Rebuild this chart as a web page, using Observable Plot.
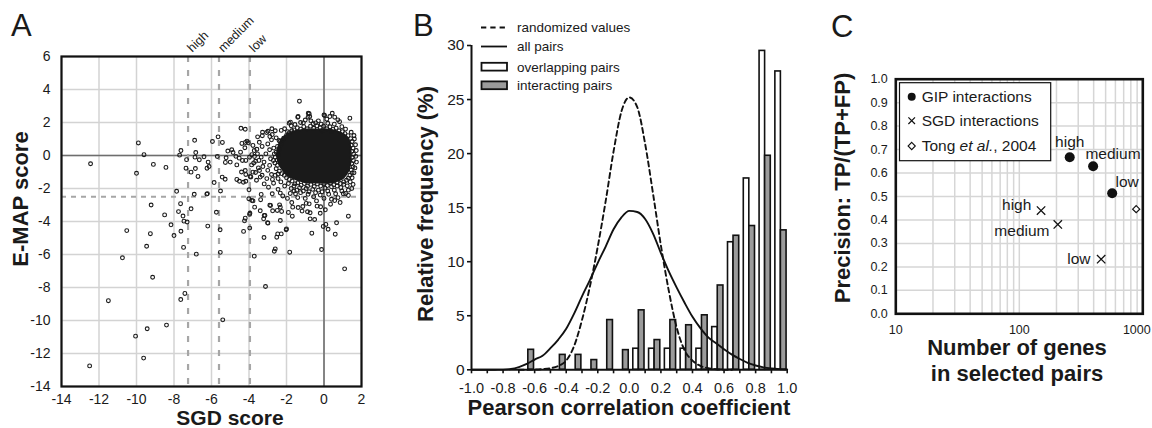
<!DOCTYPE html>
<html><head><meta charset="utf-8">
<script src="https://cdn.jsdelivr.net/npm/d3@7"></script>
<script src="https://cdn.jsdelivr.net/npm/@observablehq/plot@0.6"></script>
<style>
body{margin:0;background:#fff;}
#wrap{position:relative;width:1152px;height:428px;overflow:hidden;background:#fff;}
</style></head><body><div id="wrap"></div>
<script>
// ---------- Panel A data ----------
const aXTicks = [-14,-12,-10,-8,-6,-4,-2,0,2];
const aYTicks = [-14,-12,-10,-8,-6,-4,-2,0,2,4,6];
const aCutoffLabels = ["high","medium","low"];
const aCutoffs = [-7.25,-5.6,-3.95];
const aEmapCutoff = -2.5;
// dense core of the cloud (E-MAP score rows, SGD score left/right edge)
const aCoreY = [1.6,1.4,1.15,0.85,0.55,0.25,-0.05,-0.35,-0.65,-0.95,-1.25,-1.5,-1.72];
const aCoreLeft = [-1.0,-1.8,-2.15,-2.35,-2.45,-2.52,-2.52,-2.48,-2.38,-2.2,-1.95,-1.55,-0.95];
const aCoreRight = [0.3,0.95,1.28,1.42,1.47,1.5,1.5,1.5,1.45,1.38,1.22,1.0,0.5];
// individual gene pairs [SGD score, E-MAP score]
const aScatter = [
[-12.45,-0.5],[-12.5,-12.75],[-11.5,-8.8],[-10.75,-6.2],[-10.52,-4.55],[-9.9,0.76],[-10.0,-1.08],[-9.6,0.05],[-9.1,-0.54],[-8.43,-0.72],
[-10.05,-10.95],[-9.43,-10.5],[-9.62,-12.28],[-8.4,-10.28],[-9.14,-7.38],[-9.46,-5.5],[-9.26,-4.74],[-9.22,-3.0],[-8.5,-3.6],[-8.16,-4.2],
[-8.0,-4.85],[-7.86,-2.17],[-7.65,-2.92],[-7.76,-3.4],[-7.63,-4.59],[-7.52,-3.67],[-7.47,-3.98],[-7.3,-4.03],[-7.09,-3.23],[-7.49,-5.57],
[-7.64,-8.73],[-7.42,-8.36],[-6.81,-5.98],[-6.92,-2.35],[-6.25,-2.34],[-6.22,-2.31],[-6.2,-4.28],[-5.74,-3.44],[-5.54,-4.5],[-5.53,-5.87],
[-5.4,-9.96],[-5.52,-2.15],
[-6.9,0.92],[-7.63,0.3],[-7.7,0.02],[-7.33,-0.25],[-7.36,-0.77],[-7.09,-1.01],[-6.84,0.18],[-6.88,-0.1],[-6.86,-0.79],[-6.72,-1.27],
[-6.65,-0.26],[-6.4,-0.08],[-6.24,-0.77],[-6.13,-0.67],[-6.18,-0.4],[-5.86,-1.64],[-5.95,0.85],[-5.65,1.13],[-5.42,0.79],[-5.69,-0.06],
[-5.22,-0.14],[-5.26,-0.42],[-5.13,0.27],[-4.92,0.35],[-4.85,0.18],[-5.0,-0.4],[-5.43,-1.31],[-5.27,-1.44],[-4.43,1.65],[-4.2,1.59],
[-4.65,-0.57],[-4.52,-0.16],[-4.38,0.73],[-4.19,0.79],[-4.11,0.87],[-4.22,0.47],[-4.17,-0.3],[-3.97,-0.1],[-3.71,-0.06],[-3.86,-0.57],
[-3.65,-0.35],[-3.72,0.3],[-3.58,0.38],[-3.79,0.61],[-4.04,0.77],[-4.2,-0.91],[-4.17,-1.15],[-3.94,-1.27],[-4.17,-1.56],[-4.3,-1.62],
[-3.79,-1.01],[-4.65,-1.45],[-4.51,-1.56],[-4.0,-2.08],[-4.01,-2.62],[-3.85,-2.72],[-3.79,-2.75],
[-3.28,1.41],[-3.06,1.39],[-2.99,1.47],[-3.29,1.2],[-2.89,1.15],[-2.76,1.27],[-2.6,1.5],[-2.28,1.52],[-2.55,1.07],[-2.4,0.91],
[-3.54,1.13],[-2.78,1.62],[-3.35,-0.1],[-3.47,-0.3],[-3.44,-0.91],[-3.26,-0.67],[-3.65,-1.03],[-3.4,-1.31],[-3.19,-1.72],[-2.96,-1.92],
[-2.69,-1.68],[-3.35,-2.36],[-3.7,-3.13],[-3.38,-2.68],[-3.4,-3.35],[-2.85,-3.03],[-2.74,-3.35],[-2.49,-3.33],[-2.33,-3.13],[-3.15,-3.64],
[-3.01,-4.08],[-2.76,-2.32],[-2.33,-2.28],[-3.22,-3.84],[-3.19,-3.63],[-2.99,-4.1],[-2.89,-3.01],[-4.2,-3.8],[-3.97,-3.57],[-3.95,-3.5],
[-3.96,-4.4],[-4.29,-4.6],[-3.72,-6.1],[-3.12,-7.94],[-3.2,-4.97],[-4.24,-3.96],
[-2.6,-5.66],[-2.65,-5.8],[-2.47,-4.75],[-2.28,-4.75],[-2.52,-4.95],[-2.33,-3.94],[-2.26,-3.39],[-2.37,-2.99],[-2.02,-4.5],[-2.0,-4.45],
[-1.83,-5.86],[-1.72,-2.85],[-1.67,-3.13],[-1.69,-3.68],[-1.52,-2.32],[-1.38,-3.15],[-1.17,-3.37],[-1.13,-3.09],[-0.88,-3.41],[-0.74,-3.47],
[-0.74,-3.84],[-0.5,-3.88],[-0.79,-2.93],[-0.65,-4.71],[-0.13,-5.7],[-0.18,-3.11],[-0.2,-3.5],[0.07,-3.29],[-0.04,-4.3],[0.1,-4.18],
[0.22,-4.47],[0.6,-4.77],[0.67,-4.08],[1.1,-6.87],[1.3,-3.68],[0.57,-2.73],[0.62,-2.32],[1.03,-2.32],[-0.37,-3.07],[0.86,-2.85],
[1.24,-1.84],[1.15,-2.3],[1.3,-2.42],
[-2.2,-2.45],[-1.95,-2.6],[-1.8,-2.3],[-1.4,-2.55],[-1.25,-2.25],[-1.0,-2.6],[-0.85,-2.35],[-0.55,-2.5],[-0.4,-2.75],[-0.2,-2.4],
[0.0,-2.6],[0.25,-2.35],[0.4,-2.65],[0.75,-2.55],[0.95,-2.15],[-1.6,-2.15],[-2.45,-2.05],[0.35,-2.95],[-0.95,-2.9],[-1.9,-3.45],
[-1.31,3.29],[-1.38,2.36],[-0.79,2.53],[-0.85,2.32],[0.0,2.46],[0.44,2.56],[0.31,2.36],[0.74,2.16],[0.83,2.05],[1.38,2.26],
[-1.86,1.96],[-1.75,1.8],[-1.55,1.88],[-1.1,1.98],[-0.58,1.92],[1.45,1.41],[1.6,1.21],[-1.79,2.02],[-1.4,2.32],[-0.84,2.56],
[-0.76,2.36],[0.03,2.42],[0.57,2.32],[-1.0,2.15],[-0.3,2.1],[0.15,2.2],[-0.45,1.98],[0.2,1.95],[0.55,1.9],[0.95,1.75],
[1.15,1.6],[-2.1,1.62],[-1.95,1.45],[-0.15,1.9],[-0.7,2.1],[-1.25,2.0],
[1.62,1.0],[1.68,0.65],[1.72,0.3],[1.7,-0.05],[1.73,-0.4],[1.65,-0.75],[1.6,-1.05],[1.5,-1.35],[1.4,-1.6],[1.55,-1.75],
[1.48,-2.0],[1.3,-2.1],
[-2.3,-1.6],[-2.1,-1.85],[-1.9,-1.7],[-1.75,-2.0],[-1.6,-1.85],[-1.45,-2.1],[-1.3,-1.95],[-1.1,-2.15],[-0.95,-2.0],[-0.8,-2.2],
[-0.6,-2.05],[-0.45,-2.25],[-0.3,-2.1],[-0.1,-2.2],[0.05,-1.98],[0.2,-2.15],[0.4,-1.9],[0.55,-2.1],[0.7,-1.85],[0.9,-1.95],
[1.05,-1.75],[-2.45,-1.4],[-2.6,-1.2],
[-2.8,0.95],[-3.0,0.7],[-2.9,0.35],[-3.1,0.1],[-2.85,-0.2],[-3.2,-0.4],[-2.9,-0.6],[-3.0,-0.9],[-2.8,-1.15],[-3.3,-1.2],
[-3.5,-0.75],[-3.75,-0.45],[-3.85,0.05],[-3.55,0.1],[-3.3,0.55],[-3.45,0.8],[-2.75,-1.45],[-3.05,-1.4],[-3.6,-1.5],[-3.9,-1.3],
[-4.4,-1.0],[-4.45,0.2],[-4.7,-0.05],[-4.35,-0.3],
[-1.6,1.55],[-1.42,1.68],[-1.25,1.6],[-1.08,1.75],[-0.9,1.62],[-0.72,1.78],[-0.55,1.65],[-0.38,1.8],[-0.2,1.68],[-0.02,1.78],
[0.15,1.62],[0.32,1.74],[0.48,1.58],[0.65,1.66],[0.8,1.5],[0.98,1.45],[1.12,1.32],[1.28,1.2],[-1.85,1.38],[-2.0,1.22],
[-2.15,1.05],[-1.72,1.5],[0.4,1.45],[-0.1,1.5],
[1.42,1.02],[1.5,0.85],[1.45,0.62],[1.55,0.45],[1.48,0.25],[1.58,0.08],[1.5,-0.12],[1.57,-0.3],[1.48,-0.5],[1.55,-0.68],
[1.45,-0.88],[1.5,-1.05],[1.38,-1.2],[1.3,-1.38],[1.2,-1.5],
[1.05,-1.6],[0.88,-1.7],[0.7,-1.62],[0.52,-1.78],[0.35,-1.66],[0.18,-1.82],[0.0,-1.7],[-0.18,-1.85],[-0.35,-1.72],[-0.52,-1.88],
[-0.7,-1.75],[-0.88,-1.86],[-1.05,-1.7],[-1.22,-1.8],[-1.4,-1.65],[-1.55,-1.72],[-1.7,-1.55],[-1.85,-1.45],[-2.0,-1.35],[-2.12,-1.2],
[-2.2,0.95],[-2.35,0.85],[-2.3,0.65],[-2.48,0.55],[-2.4,0.35],[-2.55,0.2],[-2.45,0.05],[-2.6,-0.1],[-2.5,-0.28],[-2.62,-0.45],
[-2.48,-0.6],[-2.55,-0.8],[-2.38,-0.95],[-2.45,-1.12],[-2.25,-1.1],[-2.68,0.45],[-2.7,-0.3],[-2.65,0.1]
];

// ---------- Panel B data ----------
const bXTicks = [-1,-0.9,-0.8,-0.7,-0.6,-0.5,-0.4,-0.3,-0.2,-0.1,0,0.1,0.2,0.3,0.4,0.5,0.6,0.7,0.8,0.9,1];
const bYTicks = [0,5,10,15,20,25,30];
const bBinEnds = [-0.6,-0.5,-0.4,-0.3,-0.2,-0.1,0.0,0.1,0.2,0.3,0.4,0.5,0.6,0.7,0.8,0.9,1.0];
const bOverlapping = [0,0,0,0,0,0,0,1.95,1.95,1.95,1.95,1.95,3.95,11.8,17.7,29.5,27.6];
const bInteracting = [1.85,0,1.38,1.38,0.9,4.6,1.82,5.5,2.75,4.6,4.12,5.04,7.8,12.4,13.3,19.8,12.9];
const bCurveX = [-1,-0.95,-0.9,-0.85,-0.8,-0.75,-0.7,-0.65,-0.6,-0.55,-0.5,-0.45,-0.4,-0.35,-0.3,-0.25,-0.2,-0.15,-0.1,-0.05,0,
  0.05,0.1,0.15,0.2,0.25,0.3,0.35,0.4,0.45,0.5,0.55,0.6,0.65,0.7,0.75,0.8,0.85,0.9,0.95,1];
const bRandomized = [0,0,0,0,0,0,0,0.01,0.02,0.06,0.14,0.36,0.85,2.2,4.6,7.7,11.4,15.6,20.2,23.9,25.2,
  24.3,20.9,16.3,11.5,7.3,3.9,1.8,0.85,0.36,0.15,0.05,0.01,0,0,0,0,0,0,0,0];
const bAllPairs = [0,0,0,0.01,0.02,0.07,0.25,0.55,0.95,1.3,2.0,2.8,3.8,5.2,6.8,8.3,9.9,11.4,13.0,14.1,14.7,
  14.6,13.95,12.6,10.8,9.1,7.6,6.2,4.9,3.85,3.0,2.45,1.9,1.4,1.0,0.65,0.4,0.22,0.12,0.06,0.03];

// ---------- Panel C data ----------
const cLevels = ["high","medium","low"];
const cGipGenes = [256,396,565];
const cGipPrecision = [0.667,0.629,0.514];
const cSgdGenes = [150,205,460];
const cSgdPrecision = [0.44,0.381,0.233];
const cTongGenes = [884];
const cTongPrecision = [0.446];
const cGridX = [20,30,40,50,60,70,80,90,100,200,300,400,500,600,700,800,900];
const cYTicks = [0,0.1,0.2,0.3,0.4,0.5,0.6,0.7,0.8,0.9,1];

// ---------- drawing ----------
const FONT = "'Liberation Sans', Arial, Helvetica, sans-serif";
const INK = "#1a1a1a";
const baseStyle = {fontFamily: FONT, fontSize: "14px", color: INK, background: "transparent", overflow: "visible"};
const wrap = document.getElementById("wrap");
function place(el, left) {
  el.style.position = "absolute"; el.style.left = left + "px"; el.style.top = "0px";
  el.style.maxWidth = "none"; el.style.overflow = "visible";
  wrap.appendChild(el);
}

// Panel A
const aCore = aCoreY.map((y, i) => ({y, l: aCoreLeft[i], r: aCoreRight[i]}));
const plotA = Plot.plot({
  width: 370, height: 428,
  marginLeft: 61, marginRight: 9, marginTop: 56, marginBottom: 42,
  style: baseStyle,
  x: {domain: [-14, 2]},
  y: {domain: [-14, 6]},
  marks: [
    Plot.ruleX(aXTicks, {stroke: "#d3d3d3", strokeWidth: 1.5}),
    Plot.ruleY(aYTicks, {stroke: "#d3d3d3", strokeWidth: 1.5}),
    Plot.ruleX([0], {stroke: "#6e6e6e", strokeWidth: 1.6}),
    Plot.ruleY([0], {stroke: "#6e6e6e", strokeWidth: 1.6}),
    Plot.ruleX(aCutoffs, {stroke: "#a6a6a6", strokeWidth: 2.2, strokeDasharray: "6,8"}),
    Plot.ruleY([aEmapCutoff], {stroke: "#a6a6a6", strokeWidth: 2.2, strokeDasharray: "5,5"}),
    Plot.areaX(aCore, {y: "y", x1: "l", x2: "r", fill: INK, curve: "catmull-rom"}),
    Plot.dot(aScatter, {x: d => d[0], y: d => d[1], r: 1.9, stroke: INK, strokeWidth: 1.1, fill: "none"}),
    Plot.axisX({ticks: aXTicks, tickSize: 0, tickPadding: 7.5, tickFormat: d => String(d), fontSize: 14, label: null}),
    Plot.axisY({ticks: aYTicks, tickSize: 0, tickPadding: 11, tickFormat: d => String(d), fontSize: 14, label: null}),
    Plot.text(aCutoffs, {x: d => d, text: (d, i) => aCutoffLabels[i], frameAnchor: "top", textAnchor: "start", rotate: -45, dx: -2, dy: -10, fontSize: 12.5, fill: INK}),
    Plot.frame({stroke: "#111", strokeWidth: 2.2})
  ]
});
place(plotA, 0);

// Panel B
const bBars = bBinEnds.map((u, i) => ({u, o: bOverlapping[i], g: bInteracting[i]}));
const bRand = bCurveX.map((x, i) => ({x, y: bRandomized[i]})).filter(d => d.x >= -0.7 && d.x <= 0.65);
const bAll = bCurveX.map((x, i) => ({x, y: bAllPairs[i]}));
const plotB = Plot.plot({
  width: 470, height: 428,
  marginLeft: 101, marginRight: 53.3, marginTop: 45, marginBottom: 58.7,
  style: baseStyle,
  x: {domain: [-1, 1]},
  y: {domain: [0, 30]},
  marks: [
    Plot.rect(bBars.filter(d => d.o > 0), {x1: d => d.u - 0.075, x2: d => d.u - 0.04, y1: 0, y2: "o", fill: "white", stroke: "#111", strokeWidth: 1.6}),
    Plot.rect(bBars.filter(d => d.g > 0), {x1: d => d.u - 0.04, x2: d => d.u - 0.004, y1: 0, y2: "g", fill: "#9b9b9b", stroke: "#111", strokeWidth: 1.6}),
    Plot.line(bRand, {x: "x", y: "y", stroke: "#111", strokeWidth: 1.9, strokeDasharray: "5,3.5", curve: "monotone-x"}),
    Plot.line(bAll, {x: "x", y: "y", stroke: "#111", strokeWidth: 1.9, curve: "monotone-x"}),
    Plot.ruleX([-1], {y1: 0, y2: 30, stroke: "#111", strokeWidth: 2}),
    Plot.ruleY([0], {x1: -1, x2: 1, stroke: "#111", strokeWidth: 2}),
    Plot.axisX({ticks: bXTicks, tickSize: 4, tickPadding: 9, strokeWidth: 1.6, stroke: "#111",
      tickFormat: d => (Math.round(d * 10) % 2 === 0 ? d.toFixed(1) : ""), fontSize: 14.5, label: null}),
    Plot.axisY({ticks: bYTicks, tickSize: 4, tickPadding: 3, strokeWidth: 1.6, stroke: "#111",
      tickFormat: d => String(d), fontSize: 15.5, label: null})
  ]
});
place(plotB, 370);

// Panel C
const cGip = cGipGenes.map((n, i) => ({n, p: cGipPrecision[i], t: cLevels[i]}));
const cSgd = cSgdGenes.map((n, i) => ({n, p: cSgdPrecision[i], t: cLevels[i]}));
const cTong = cTongGenes.map((n, i) => ({n, p: cTongPrecision[i]}));
const lbl = (d, o) => Plot.text([d], {x: "n", y: "p", text: "t", fontSize: 15.5, fill: INK, ...o});
const plotC = Plot.plot({
  width: 312, height: 428,
  marginLeft: 55.3, marginRight: 9.7, marginTop: 78.7, marginBottom: 114.7,
  style: baseStyle,
  x: {type: "log", domain: [10, 1000]},
  y: {domain: [0, 1]},
  marks: [
    Plot.ruleX(cGridX, {stroke: "#d6d6d6", strokeWidth: 1.5}),
    Plot.ruleY(cYTicks, {stroke: "#d6d6d6", strokeWidth: 1.5}),
    Plot.axisX({ticks: [10, 100], tickSize: 0, tickPadding: 11, tickFormat: d => String(d), fontSize: 12.5, label: null}),
    Plot.axisX({ticks: [1000], tickSize: 0, tickPadding: 11, tickFormat: d => String(d), fontSize: 12.5, label: null, dx: -6}),
    Plot.axisY({ticks: cYTicks, tickSize: 0, tickPadding: 8, tickFormat: d => d.toFixed(1), fontSize: 12.5, label: null}),
    Plot.dot(cGip, {x: "n", y: "p", r: 5, fill: "#111", stroke: "none"}),
    Plot.dot(cSgd, {x: "n", y: "p", symbol: "times", r: 3.9, stroke: "#111", strokeWidth: 1.3}),
    Plot.dot(cTong, {x: "n", y: "p", symbol: "diamond2", r: 3.2, stroke: "#111", fill: "white", strokeWidth: 1.2}),
    lbl(cGip[0], {textAnchor: "middle", dy: -15.5}),
    lbl(cGip[1], {textAnchor: "start", dx: -7.7, dy: -12}),
    lbl(cGip[2], {textAnchor: "start", dx: 3.3, dy: -10.7}),
    lbl(cSgd[0], {textAnchor: "end", dx: -9.7, dy: -5.5}),
    lbl(cSgd[1], {textAnchor: "end", dx: -8.3, dy: 6.3}),
    lbl(cSgd[2], {textAnchor: "end", dx: -10.7, dy: -0.4}),
    Plot.frame({stroke: "#111", strokeWidth: 2.6})
  ]
});
place(plotC, 840);

// Overlay: panel letters, axis titles, legends
const ov = d3.create("svg").attr("width", 1152).attr("height", 428)
  .attr("font-family", FONT).attr("fill", INK)
  .style("position", "absolute").style("left", "0px").style("top", "0px").style("overflow", "visible");
function T(x, y, s, size, o = {}) {
  const t = ov.append("text").attr("x", x).attr("y", y).attr("font-size", size).text(s);
  if (o.bold) t.attr("font-weight", "bold");
  if (o.anchor) t.attr("text-anchor", o.anchor);
  if (o.rot) t.attr("transform", `rotate(${o.rot},${x},${y})`);
  return t;
}
T(11, 36, "A", 31);
T(413, 36, "B", 31);
T(831, 37, "C", 31);
T(230, 425, "SGD score", 21, {bold: true, anchor: "middle"});
T(28, 199, "E-MAP score", 22, {bold: true, anchor: "middle", rot: -90});
T(433, 204, "Relative frequency (%)", 22, {bold: true, anchor: "middle", rot: -90});
T(629, 415, "Pearson correlation coefficient", 22, {bold: true, anchor: "middle"});
T(850, 188, "Precision: TP/(TP+FP)", 22, {bold: true, anchor: "middle", rot: -90});
T(1017, 355, "Number of genes", 22, {bold: true, anchor: "middle"});
T(1017, 381, "in selected pairs", 22, {bold: true, anchor: "middle"});

// legend B
const lgB = [["randomized values", 27.5], ["all pairs", 46.5], ["overlapping pairs", 66.7], ["interacting pairs", 85.3]];
ov.append("line").attr("x1", 481).attr("x2", 507).attr("y1", 27.5).attr("y2", 27.5)
  .attr("stroke", "#111").attr("stroke-width", 1.8).attr("stroke-dasharray", "5.3,4");
ov.append("line").attr("x1", 481).attr("x2", 507).attr("y1", 46.5).attr("y2", 46.5)
  .attr("stroke", "#111").attr("stroke-width", 1.8);
ov.append("rect").attr("x", 481.5).attr("y", 62.8).attr("width", 25.5).attr("height", 7.8)
  .attr("fill", "white").attr("stroke", "#111").attr("stroke-width", 1.8);
ov.append("rect").attr("x", 481.5).attr("y", 81.4).attr("width", 25.5).attr("height", 7.8)
  .attr("fill", "#9b9b9b").attr("stroke", "#111").attr("stroke-width", 1.8);
lgB.forEach(([s, y]) => T(517, y + 4.8, s, 13.5));

// legend C
ov.append("rect").attr("x", 899.5).attr("y", 82.7).attr("width", 151.2).attr("height", 78)
  .attr("fill", "white").attr("stroke", "#111").attr("stroke-width", 1.2);
ov.append("circle").attr("cx", 911.7).attr("cy", 96.7).attr("r", 4).attr("fill", "#111");
ov.append("path").attr("d", "M908.4,117.4L915,124M915,117.4L908.4,124").attr("stroke", "#111").attr("stroke-width", 1.2).attr("fill", "none");
ov.append("path").attr("d", "M911.7,142.4L915.3,146L911.7,149.6L908.1,146Z").attr("stroke", "#111").attr("stroke-width", 1.1).attr("fill", "white");
T(921.7, 96.7 + 5.4, "GIP interactions", 15.5);
T(921.7, 120.7 + 5.4, "SGD interactions", 15.5);
const tg = T(921.7, 146 + 5.4, "", 15.5);
tg.append("tspan").text("Tong ");
tg.append("tspan").attr("font-style", "italic").text("et al.");
tg.append("tspan").text(", 2004");

wrap.appendChild(ov.node());
</script></body></html>
